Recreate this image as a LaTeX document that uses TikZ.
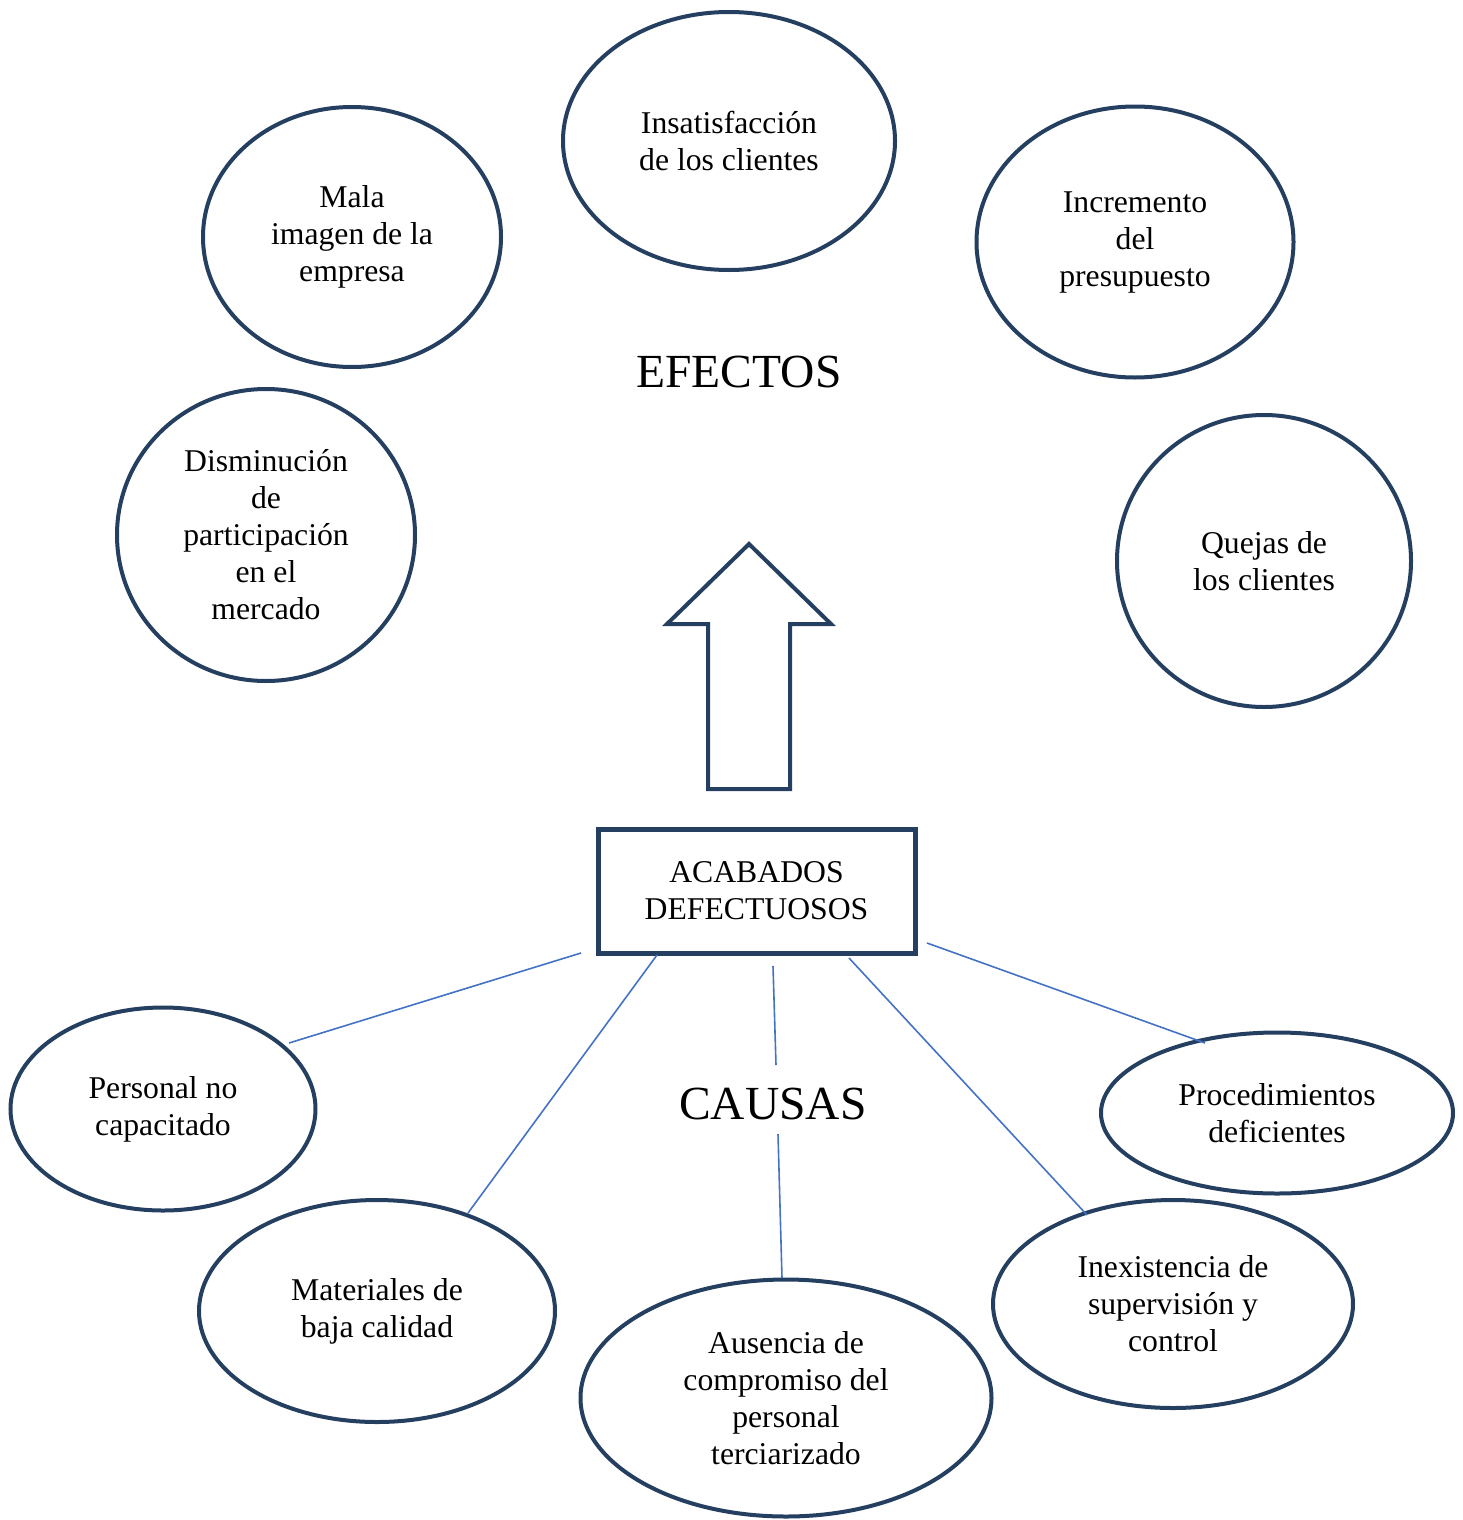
\documentclass[tikz,border=0pt]{standalone}
\usepackage{fontspec}
\setmainfont{Liberation Serif}
\usetikzlibrary{shapes.geometric}
\definecolor{navy}{HTML}{243F60}
\definecolor{lineblue}{HTML}{4472C4}
\tikzset{
  ell/.style={ellipse, draw=navy, line width=4pt, align=center, inner sep=0pt,
    font=\fontsize{31.7}{37}\selectfont},
  bigtitle/.style={font=\fontsize{47.5}{52}\selectfont},
  conn/.style={draw=lineblue, line width=1.6pt}
}
\begin{document}
\begin{tikzpicture}[x=1pt,y=-1pt]
\useasboundingbox (0,0) rectangle (1463,1520);
% effects
\node[ell, minimum width=332pt, minimum height=258pt] (e1) at (729,141) {Insatisfacción\\de los clientes};
\node[ell, minimum width=298pt, minimum height=260pt] (e2) at (352,237) {Mala\\imagen de la\\empresa};
\node[ell, minimum width=317pt, minimum height=271pt] (e3) at (1135,242) {Incremento\\del\\presupuesto};
\node[ell, minimum width=298pt, minimum height=292pt] (e4) at (266,535) {Disminución\\de\\participación\\en el\\mercado};
\node[ell, minimum width=294pt, minimum height=292pt] (e5) at (1264,561) {Quejas de\\los clientes};
\node[bigtitle] (efectos) at (739,372) {EFECTOS};
% block arrow
\draw[navy, line width=4pt, line join=miter]
  (749,544) -- (831,624) -- (790,624) -- (790,789) -- (708,789) -- (708,624) -- (667,624) -- cycle;
% problem box
\node[draw=navy, line width=5pt, minimum width=317pt, minimum height=124pt, align=center,
  font=\fontsize{31.7}{37}\selectfont] (prob) at (756.5,891) {ACABADOS\\DEFECTUOSOS};
\node[bigtitle] (causas) at (773,1104) {CAUSAS};
% causes
\node[ell, minimum width=305pt, minimum height=203pt] (c1) at (163,1109) {Personal no\\capacitado};
\node[ell, minimum width=356pt, minimum height=222pt] (c2) at (377,1311) {Materiales de\\baja calidad};
\node[ell, minimum width=411pt, minimum height=237pt] (c3) at (786,1398) {Ausencia de\\compromiso del\\personal\\terciarizado};
\node[ell, minimum width=360pt, minimum height=208pt] (c4) at (1173,1304) {Inexistencia de\\supervisión y\\control};
\node[ell, minimum width=352pt, minimum height=161pt] (c5) at (1277,1113) {Procedimientos\\deficientes};
% connector endpoints
\coordinate (a1) at (581,953); \coordinate (b1) at (289,1043);
\coordinate (a2) at (657,955); \coordinate (b2) at (468,1213);
\coordinate (a3) at (773,966); \coordinate (b3) at (776,1065);
\coordinate (a3b) at (778,1134); \coordinate (b3b) at (782,1278);
\coordinate (a4) at (849,958); \coordinate (b4) at (1087,1215);
\coordinate (a5) at (927,943); \coordinate (b5) at (1205,1043);
\draw[conn] (a1) -- (b1);
\draw[conn] (a2) -- (b2);
\draw[conn] (a3) -- (b3);
\draw[conn] (a3b) -- (b3b);
\draw[conn] (a4) -- (b4);
\draw[conn] (a5) -- (b5);
\end{tikzpicture}
\end{document}
